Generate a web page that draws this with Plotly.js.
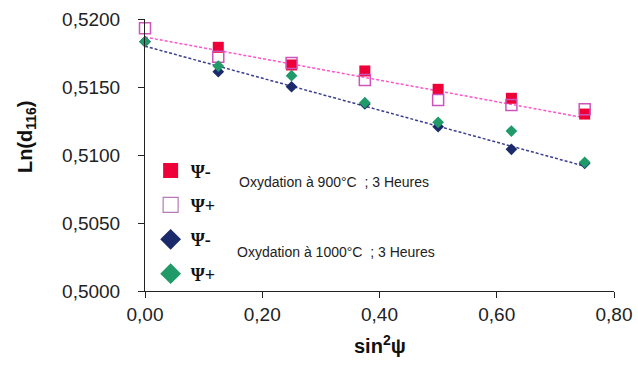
<!DOCTYPE html>
<html>
<head>
<meta charset="utf-8">
<script src="https://cdn.plot.ly/plotly-3.0.1.min.js"></script>
<style>html,body{margin:0;padding:0;background:#fff;}#chart{width:638px;height:369px;}</style>
</head>
<body>
<div id="chart"></div>
<script>
// sin²ψ values
var sin2psi = [0, 0.125, 0.25, 0.375, 0.5, 0.625, 0.75];
var sin2psiMinus900 = [0.125, 0.25, 0.375, 0.5, 0.625, 0.75];
// Ln(d116) values
var ln900Minus = [0.51792, 0.51662, 0.51618, 0.51483, 0.51417, 0.51301];
var ln900Plus  = [0.51932, 0.51723, 0.51677, 0.51551, 0.51404, 0.51368, 0.51336];
var ln1000Minus = [0.51833, 0.51613, 0.51502, 0.51375, 0.51208, 0.51042, 0.50939];
var ln1000Plus  = [0.51833, 0.51654, 0.51583, 0.51385, 0.51240, 0.51176, 0.50946];
var legendLabels = ["Ψ-", "Ψ+", "Ψ-", "Ψ+"];
var groupLabels = ["Oxydation à 900°C  ; 3 Heures", "Oxydation à 1000°C  ; 3 Heures"];
var xTicks = [0, 0.2, 0.4, 0.6, 0.8];
var yTicks = [0.5, 0.505, 0.51, 0.515, 0.52];

function fit(x, y) {
  var n = x.length, mx = 0, my = 0;
  for (var i = 0; i < n; i++) { mx += x[i]; my += y[i]; }
  mx /= n; my /= n;
  var sxy = 0, sxx = 0;
  for (var j = 0; j < n; j++) { sxy += (x[j]-mx)*(y[j]-my); sxx += (x[j]-mx)*(x[j]-mx); }
  var b = sxy/sxx, a = my - b*mx;
  var x0 = Math.min.apply(null, x), x1 = Math.max.apply(null, x);
  return {x: [x0, x1], y: [a + b*x0, a + b*x1]};
}
var f900 = fit(sin2psi, ln900Plus);
var f1000 = fit(sin2psi, ln1000Minus);

var cRed = '#ee0038', cPink = '#cc55bb', cNavy = '#1b2a6b', cGreen = '#1f9a68';
var legFont = {family: 'Liberation Serif, serif', size: 18, color: '#111', weight: 'bold'};

var traces = [
  {x: f900.x, y: f900.y, mode: 'lines', line: {color: '#ff55cc', width: 1.5, dash: '3px,2px'}, showlegend: false, hoverinfo: 'skip'},
  {x: f1000.x, y: f1000.y, mode: 'lines', line: {color: '#3a3f8f', width: 1.5, dash: '3px,2px'}, showlegend: false, hoverinfo: 'skip'},
  {x: sin2psiMinus900, y: ln900Minus, mode: 'markers', cliponaxis: false, showlegend: false,
   marker: {symbol: 'square', size: 11, color: cRed}},
  {x: sin2psi, y: ln900Plus, mode: 'markers', cliponaxis: false, showlegend: false,
   marker: {symbol: 'square-open', size: 11, color: cPink, line: {width: 1.5}}},
  {x: sin2psi, y: ln1000Minus, mode: 'markers', cliponaxis: false, showlegend: false,
   marker: {symbol: 'diamond', size: 9, color: cNavy}},
  {x: sin2psi, y: ln1000Plus, mode: 'markers', cliponaxis: false, showlegend: false,
   marker: {symbol: 'diamond', size: 9, color: cGreen}},
  // legend entries
  {x: [null], y: [null], mode: 'markers', name: legendLabels[0], legendgroup: 'a',
   marker: {symbol: 'square', size: 15, color: cRed}},
  {x: [null], y: [null], mode: 'markers', name: legendLabels[1], legendgroup: 'b',
   marker: {symbol: 'square-open', size: 15, color: '#b57ab5', line: {width: 1.2}}},
  {x: [null], y: [null], mode: 'markers', name: legendLabels[2], legendgroup: 'c',
   marker: {symbol: 'diamond', size: 16, color: cNavy}},
  {x: [null], y: [null], mode: 'markers', name: legendLabels[3], legendgroup: 'd',
   marker: {symbol: 'diamond', size: 16, color: cGreen}}
];

var tickFont = {family: 'Liberation Sans, Arial, sans-serif', size: 19, color: '#222'};
var layout = {
  width: 638, height: 369,
  margin: {l: 145, r: 24, t: 19, b: 78},
  paper_bgcolor: '#fff', plot_bgcolor: '#fff',
  separators: ', ',
  showlegend: true,
  legend: {x: 0.012, y: 0.51, xanchor: 'left', yanchor: 'top', bgcolor: 'rgba(0,0,0,0)',
           font: legFont, tracegroupgap: 8, itemsizing: 'trace'},
  xaxis: {range: [0, 0.8], tickvals: xTicks, tickformat: '.2f', showgrid: false, zeroline: false,
          showline: true, linecolor: '#222', linewidth: 1, ticks: 'outside', ticklen: 6, tickcolor: '#222',
          tickfont: tickFont, fixedrange: true},
  yaxis: {range: [0.5, 0.52], tickvals: yTicks, tickformat: '.4f', showgrid: false, zeroline: false,
          showline: true, linecolor: '#222', linewidth: 1, ticks: 'outside', ticklen: 6, tickcolor: '#222',
          tickfont: tickFont, ticklabelstandoff: 14, fixedrange: true},
  annotations: [
    {xref: 'paper', yref: 'paper', x: -0.2537, y: 0.566, xanchor: 'center', yanchor: 'middle',
     text: '<b>Ln(d<sub>116</sub>)</b>', textangle: -90,
     showarrow: false, font: {family: 'Liberation Sans, Arial, sans-serif', size: 20, color: '#111'}},
    {xref: 'paper', yref: 'paper', x: 0.5, y: -0.195, xanchor: 'center', yanchor: 'middle',
     text: '<b>sin<sup>2</sup>ψ</b>',
     showarrow: false, font: {family: 'Liberation Sans, Arial, sans-serif', size: 20, color: '#111'}},
    {xref: 'paper', yref: 'paper', x: 0.197, y: 0.402, xanchor: 'left', yanchor: 'middle', text: groupLabels[0],
     showarrow: false, font: {family: 'Liberation Sans, Arial, sans-serif', size: 14, color: '#222'}},
    {xref: 'paper', yref: 'paper', x: 0.192, y: 0.1445, xanchor: 'left', yanchor: 'middle', text: groupLabels[1],
     showarrow: false, font: {family: 'Liberation Sans, Arial, sans-serif', size: 14, color: '#222'}}
  ]
};
Plotly.newPlot('chart', traces, layout, {displayModeBar: false, staticPlot: true});
</script>
</body>
</html>
